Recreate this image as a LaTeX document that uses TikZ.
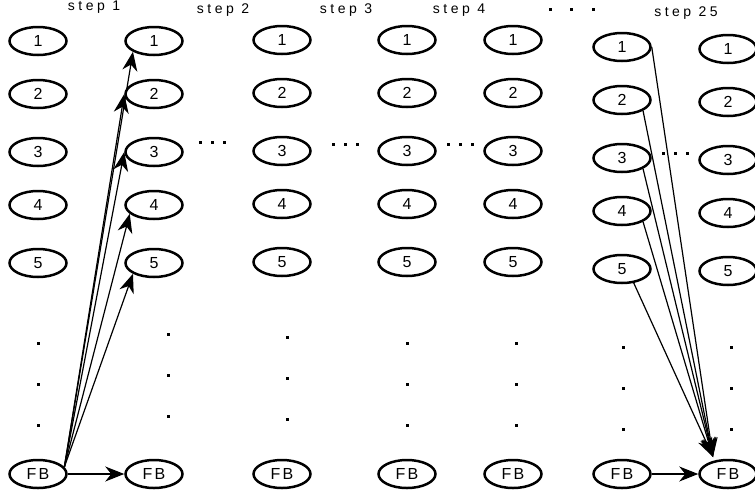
\documentclass[tikz,border=0pt]{standalone}
\usepackage{fontspec}
\setmainfont{Liberation Sans}
\usepackage{tikz}
\usetikzlibrary{arrows.meta,shapes.geometric}

\begin{document}
\begin{tikzpicture}[x=1pt,y=-1pt,>={Stealth[length=19pt,width=15pt,inset=6pt]},
  state/.style={ellipse,draw,line width=2.5pt,minimum width=57pt,minimum height=28pt,inner sep=0pt,
    font=\fontsize{16}{18}\selectfont\addfontfeature{LetterSpace=15}},
  steplab/.style={font=\fontsize{14}{16}\selectfont\addfontfeature{LetterSpace=25}},
  link/.style={->,line width=1.2pt}]
\useasboundingbox (0,0) rectangle (755,498);
% states of every step: column/x/shift
\foreach \c/\x/\d in {0/38/0,1/154/0,2/282/-1,3/407/-1,4/513/-1,5/622/6,6/728/8}{
  \foreach \r/\y in {1/41,2/94,3/152,4/205,5/263}
    \node[state] (c\c-\r) at (\x,\y+\d) {\r};
  \node[state] (c\c-fb) at (\x,474) {FB};
}
\node[steplab] (s1) at (94,7) {step 1};
\node[steplab] (s2) at (223,10) {step 2};
\node[steplab] (s3) at (346,10) {step 3};
\node[steplab] (s4) at (459,10) {step 4};
\node[steplab] (s25) at (686,13) {step 25};
% vertical dots
\foreach \x/\y in {38/343,168/334,287/337,407/343,516/343,623/347,731/347}
  \foreach \k in {0,1,2}
    \fill (\x-1.5,\y+41*\k-1.5) rectangle +(3,3);
% horizontal dots
\foreach \x/\y/\s in {200/142/12,333/144/12,448/144/12,663/153/12,550/9/21.5}
  \foreach \k in {0,1,2}
    \fill (\x+\s*\k-1.5,\y-1.5) rectangle +(3,3);
% arrows
\foreach \r/\a in {1/south west,2/west,3/west,4/200,5/south west}
  \draw[link] (c0-fb.15) -- (c1-\r.\a);
\draw[link] (c0-fb) -- (c1-fb);
\coordinate (in25) at ([shift={(-15,-17)}]c6-fb.center);
\foreach \r/\a in {1/east,2/south east,3/south east,4/south east,5/-50}
  \draw[link] (c5-\r.\a) -- (in25);
\draw[link] (c5-fb) -- (c6-fb);
\end{tikzpicture}
\end{document}
